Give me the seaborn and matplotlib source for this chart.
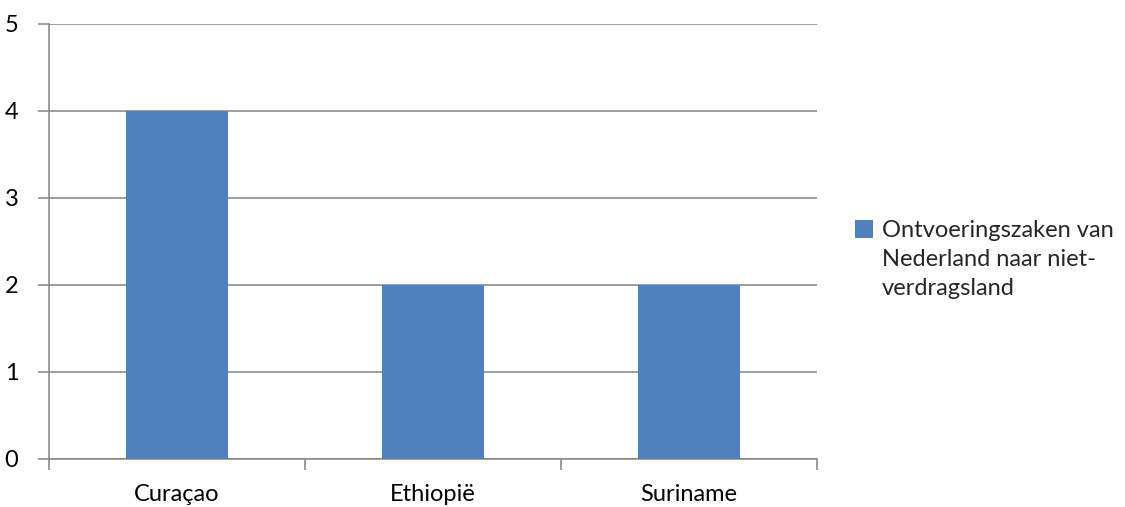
import matplotlib
matplotlib.use("Agg")
import matplotlib.pyplot as plt
import seaborn as sns
import pandas as pd

categories = ["Curaçao", "Ethiopië", "Suriname"]
values = [4, 2, 2]
series_name = "Ontvoeringszaken van\nNederland naar niet-\nverdragsland"
y_ticks = [0, 1, 2, 3, 4, 5]

sns.set_theme(style="white")
plt.rcParams['font.family'] = ['Lato', 'DejaVu Sans']

FS = 17.0
df = pd.DataFrame({"land": categories, "aantal": values, "serie": series_name})

fig = plt.figure(figsize=(11.25, 5.07), dpi=100)
ax = fig.add_axes([0.0436, 0.0947, 0.7262 - 0.0436, 0.953 - 0.0947])

sns.barplot(data=df, x="land", y="aantal", hue="serie",
            palette=["#4F81BD"], width=0.4, saturation=1, ax=ax, zorder=3,
            linewidth=0, edgecolor="none")

ax.set_xlim(-0.5, 2.5)
ax.set_ylim(0, 5)
ax.set_yticks(y_ticks)
ax.set_yticklabels([str(t) for t in y_ticks], fontsize=FS)
ax.yaxis.grid(True, color="#8c8c8c", linewidth=1.2, zorder=0)
ax.set_axisbelow(True)
ax.set_xlabel("")
ax.set_ylabel("")

for s in ["top", "right"]:
    ax.spines[s].set_visible(False)
for s in ["left", "bottom"]:
    ax.spines[s].set_color("#8c8c8c")
    ax.spines[s].set_linewidth(1.2)

ax.tick_params(axis="y", which="major", length=8, width=1.2, color="#8c8c8c",
               direction="out", left=True, pad=14, labelcolor="black")
ax.set_xticks([0, 1, 2])
ax.set_xticklabels(categories, fontsize=FS)
ax.tick_params(axis="x", which="major", length=0, pad=18, labelcolor="black")
ax.set_xticks([-0.5, 0.5, 1.5, 2.5], minor=True)
ax.tick_params(axis="x", which="minor", length=8, width=1.2, color="#8c8c8c",
               direction="out", bottom=True)

h, l = ax.get_legend_handles_labels()
ax.legend_.remove()
leg = fig.legend(h, l, loc="center left", bbox_to_anchor=(0.741, 0.488), frameon=False,
                 fontsize=FS, handlelength=0.75, handleheight=0.75, handletextpad=0.4,
                 labelspacing=0.2)
for t in leg.get_texts():
    t.set_linespacing(1.45)
for col in leg._legend_handle_box.get_children():
    for hp in col.get_children():
        hp.align = "top"

fig.savefig("out.png", dpi=100)
